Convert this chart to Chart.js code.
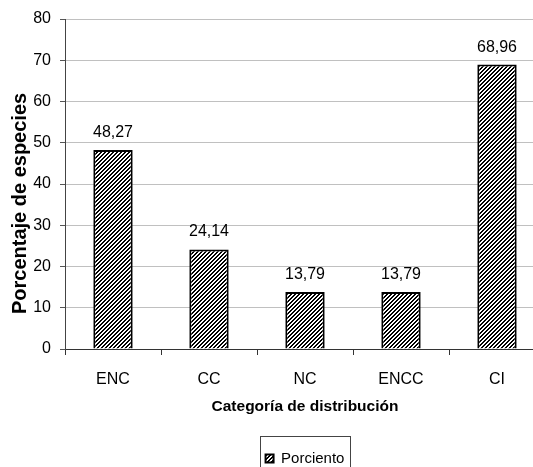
<!DOCTYPE html>
<html>
<head>
<meta charset="utf-8">
<script src="https://cdn.jsdelivr.net/npm/chart.js@4/dist/chart.umd.min.js"></script>
<style>
  html, body { margin: 0; padding: 0; background: #fff; overflow: hidden; width: 533px; height: 467px; }
  #wrap { position: absolute; left: 0; top: 0; width: 545px; height: 476px; }
</style>
</head>
<body>
<div id="wrap"><canvas id="c"></canvas></div>
<script>
const categories = ['ENC', 'CC', 'NC', 'ENCC', 'CI'];
const porciento = [48.27, 24.14, 13.79, 13.79, 68.96];
const seriesName = 'Porciento';
const yTicks = [0, 10, 20, 30, 40, 50, 60, 70, 80];
const yTitle = 'Porcentaje de especies';
const xTitle = 'Categoría de distribución';

const FAM = '"Liberation Sans", Arial, sans-serif';
const SZ = { tick: 16, value: 16, xlab: 16, xtitle: 15.5, legend: 15 };

function makeHatch() {
  const s = 4;
  const pc = document.createElement('canvas');
  pc.width = s; pc.height = s;
  const g = pc.getContext('2d');
  g.fillStyle = '#fff';
  g.fillRect(0, 0, s, s);
  g.fillStyle = '#000';
  for (let y = 0; y < s; y++) {
    for (let x = 0; x < s; x++) {
      if ((x + y) % s < 2) g.fillRect(x, y, 1, 1);
    }
  }
  return g.createPattern(pc, 'repeat');
}
const hatch = makeHatch();

const fmt = v => v.toFixed(2).replace('.', ',');

const valueLabels = {
  id: 'valueLabels',
  afterDatasetsDraw(chart) {
    const ctx = chart.ctx;
    const meta = chart.getDatasetMeta(0);
    ctx.save();
    ctx.font = SZ.value + 'px ' + FAM;
    ctx.fillStyle = '#000';
    ctx.textAlign = 'center';
    ctx.textBaseline = 'alphabetic';
    meta.data.forEach((bar, i) => {
      ctx.fillText(fmt(chart.data.datasets[0].data[i]), bar.x, bar.y - 13);
    });
    ctx.restore();
  }
};

const legendFrame = {
  id: 'legendFrame',
  afterDraw(chart) {
    const lg = chart.legend;
    if (!lg || !lg.legendHitBoxes || !lg.legendHitBoxes.length) return;
    const hb = lg.legendHitBoxes[0];
    const cx = hb.left + hb.width / 2;
    const cy = hb.top + hb.height / 2;
    const w = 90;
    const ctx = chart.ctx;
    ctx.save();
    ctx.strokeStyle = '#444';
    ctx.lineWidth = 1;
    ctx.strokeRect(Math.round(cx - w / 2) + 0.5, Math.round(cy - 23) + 0.5, w, 60);
    ctx.restore();
  }
};

new Chart(document.getElementById('c'), {
  type: 'bar',
  data: {
    labels: categories,
    datasets: [{
      label: seriesName,
      data: porciento,
      backgroundColor: hatch,
      borderColor: '#000',
      borderWidth: 2,
      categoryPercentage: 1.0,
      barPercentage: 0.41
    }]
  },
  options: {
    responsive: true,
    maintainAspectRatio: false,
    animation: false,
    layout: { padding: { top: 19, right: 0, bottom: 0, left: 0 } },
    plugins: {
      tooltip: { enabled: false },
      legend: {
        position: 'bottom',
        fullSize: false,
        labels: {
          boxWidth: 8,
          boxHeight: 8,
          padding: 32,
          color: '#000',
          font: { family: FAM, size: SZ.legend }
        }
      }
    },
    scales: {
      x: {
        afterFit(scale) { scale.height = 70; },
        grid: {
          display: true,
          drawOnChartArea: false,
          drawTicks: true,
          tickLength: 6,
          offset: true,
          color: '#333'
        },
        border: { display: true, color: '#333', width: 1 },
        ticks: {
          color: '#000',
          padding: 15,
          font: { family: FAM, size: SZ.xlab }
        },
        title: {
          display: true,
          text: xTitle,
          color: '#000',
          padding: { top: 0, bottom: 3 },
          font: { family: FAM, size: SZ.xtitle, weight: 'bold' }
        }
      },
      y: {
        min: 0,
        max: 80,
        afterFit(scale) { scale.width = 65; },
        afterBuildTicks(scale) { scale.ticks = yTicks.map(v => ({ value: v })); },
        grid: {
          color: '#c0c0c0',
          tickColor: '#555',
          tickLength: 5,
          lineWidth: 1
        },
        border: { display: true, color: '#444', width: 1 },
        ticks: {
          color: '#000',
          padding: 9,
          font: { family: FAM, size: SZ.tick }
        },
        title: {
          display: true,
          text: yTitle + '       ',
          color: '#000',
          padding: { top: 8, bottom: 2 },
          font: { family: FAM, size: 20, weight: 'bold' }
        }
      }
    }
  },
  plugins: [valueLabels, legendFrame]
});
</script>
</body>
</html>
